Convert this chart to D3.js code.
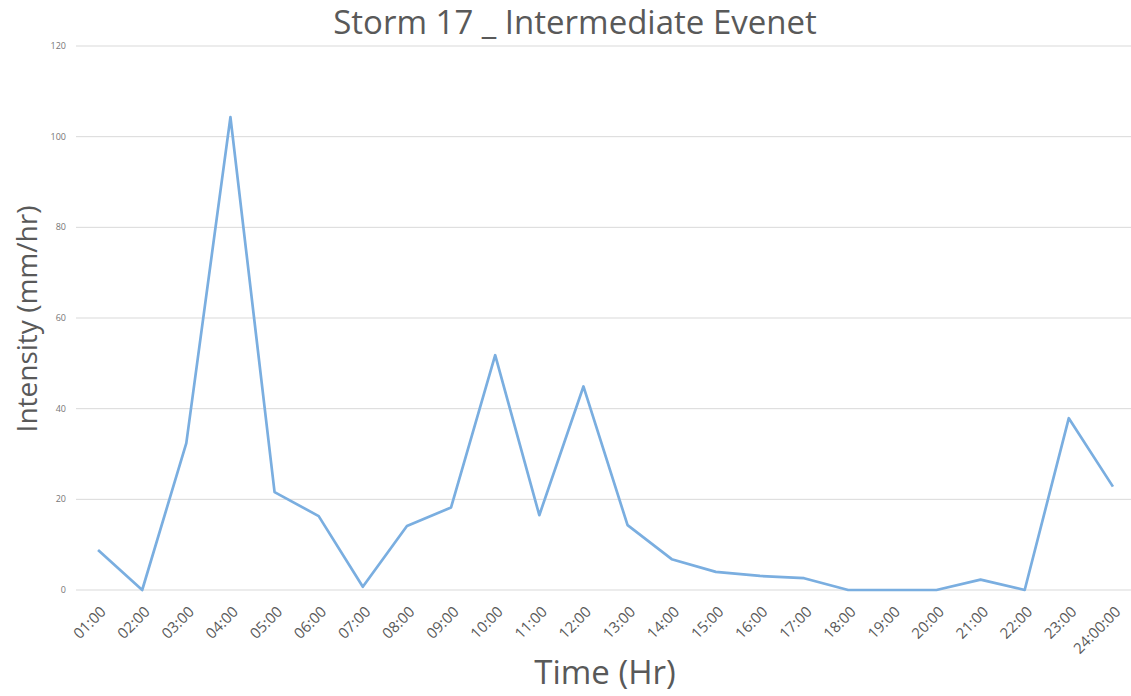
<!DOCTYPE html>
<html><head><meta charset="utf-8">
<script src="https://cdn.jsdelivr.net/npm/d3@7"></script>
<style>body{margin:0;background:#fff}svg{display:block}text{font-family:"Open Sans",sans-serif}</style>
</head><body>
<svg id="c" width="1131" height="696"></svg>
<script>
const categories = ["01:00","02:00","03:00","04:00","05:00","06:00","07:00","08:00","09:00","10:00","11:00","12:00","13:00","14:00","15:00","16:00","17:00","18:00","19:00","20:00","21:00","22:00","23:00","24:00:00"];
const intensity = [8.8,0,32.4,104.3,21.6,16.3,0.7,14.1,18.2,51.8,16.5,44.9,14.3,6.8,4.0,3.1,2.6,0,0,0,2.3,0,37.9,22.8];
const yTicks = [0,20,40,60,80,100,120];
const title = "Storm 17 _ Intermediate Evenet";
const xTitle = "Time (Hr)";
const yTitle = "Intensity (mm/hr)";

(function(){
const svg = d3.select("#c");
const mLeft = 76, mRight = 1135, mTop = 46, mBottom = 590;
const x = d3.scaleBand().domain(categories).range([mLeft, mRight]);
const y = d3.scaleLinear().domain([0,120]).range([mBottom, mTop]);

svg.append("g").selectAll("line").data(yTicks).join("line")
  .attr("x1", mLeft).attr("x2", 1131)
  .attr("y1", d=>y(d)).attr("y2", d=>y(d))
  .attr("stroke", "#d9d9d9").attr("stroke-width", 1);

svg.append("g").selectAll("text").data(yTicks).join("text")
  .attr("x", 66).attr("y", d=>y(d)).attr("dy","0.35em")
  .attr("text-anchor","end").attr("font-size", 9).attr("fill","#767676")
  .text(d=>d);

svg.append("g").selectAll("text").data(categories).join("text")
  .attr("transform", d=>`translate(${x(d)+x.bandwidth()/2+5},${609}) rotate(-45)`)
  .attr("text-anchor","end").attr("dy","0.35em")
  .attr("font-size", 15).attr("fill","#595959")
  .text(d=>d);

const line = d3.line().x((d,i)=>x(categories[i])+x.bandwidth()/2).y(d=>y(d));
svg.append("path").datum(intensity).attr("d", line)
  .attr("fill","none").attr("stroke","#7aaee0").attr("stroke-width",2.7)
  .attr("stroke-linejoin","round");

svg.append("text").attr("x", 575).attr("y", 34).attr("text-anchor","middle")
  .attr("font-size", 33).attr("fill","#595959").text(title);
svg.append("text").attr("x", 605).attr("y", 684).attr("text-anchor","middle")
  .attr("font-size", 33).attr("fill","#595959").text(xTitle);
svg.append("text").attr("transform","translate(37,319) rotate(-90)").attr("text-anchor","middle")
  .attr("font-size", 28).attr("fill","#595959").text(yTitle);
})();
</script>
</body></html>
